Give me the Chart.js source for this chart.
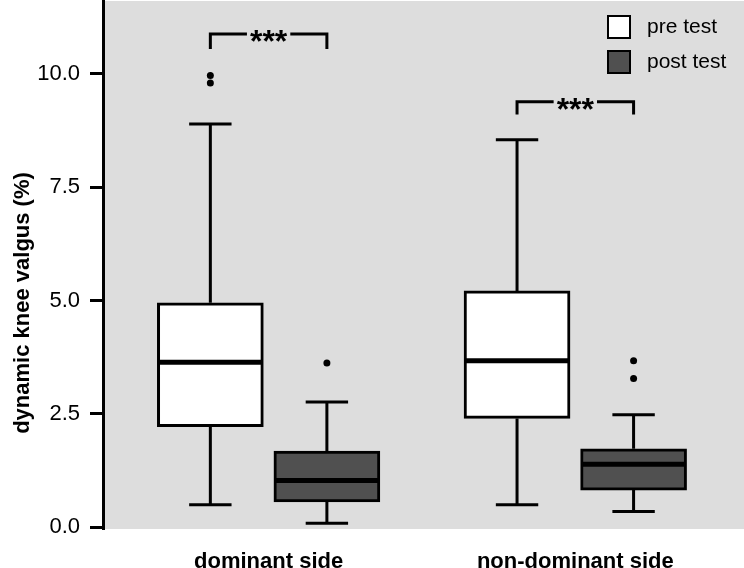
<!DOCTYPE html>
<html><head><meta charset="utf-8">
<script src="https://cdn.jsdelivr.net/npm/chart.js@4.4.1/dist/chart.umd.min.js"></script>
<style>html,body{margin:0;padding:0;background:#fff;}#wrap{width:744px;height:568px;}</style>
</head><body><div id="wrap"><canvas id="c" width="744" height="568"></canvas></div>
<script>
// ---- data ----
const categories = ['dominant side', 'non-dominant side'];
const seriesNames = ['pre test', 'post test'];
const yTicks = [0, 2.5, 5.0, 7.5, 10.0];
const yTitle = 'dynamic knee valgus (%)';

const preMin = [0.50, 0.50];
const preQ1 = [2.22, 2.40];
const preMedian = [3.64, 3.67];
const preQ3 = [4.95, 5.21];
const preMax = [8.89, 8.54];
const preOutliers = [[9.96, 9.79], []];

const postMin = [0.09, 0.35];
const postQ1 = [0.56, 0.82];
const postMedian = [1.03, 1.39];
const postQ3 = [1.68, 1.73];
const postMax = [2.76, 2.48];
const postOutliers = [[3.62], [3.67, 3.28]];

const sigLabels = ['***', '***'];
const sigTop = [10.87, 9.38];
const sigBottom = [10.54, 9.10];

// ---- layout / style ----
const FONT = '"Liberation Sans", Arial, Helvetica, sans-serif';
const GROUP_OFFSET = 0.19;
const PRE_FILL = '#ffffff';
const POST_FILL = '#505050';
const BG = '#dddddd';

const stats = [
  {min: preMin, q1: preQ1, med: preMedian, q3: preQ3, max: preMax},
  {min: postMin, q1: postQ1, med: postMedian, q3: postQ3, max: postMax}
];

const boxData = (q1, q3, sign) => categories.map((c, i) => ({x: i + sign * GROUP_OFFSET, y: [q1[i], q3[i]]}));
const outData = (outs, sign) => outs.flatMap((arr, i) => arr.map(v => ({x: i + sign * GROUP_OFFSET, y: v})));

const zeroPad = s => { s.paddingTop = 0; s.paddingBottom = 0; s.paddingLeft = 0; s.paddingRight = 0; };

const extras = {
  id: 'boxExtras',
  beforeDraw(chart) {
    const {ctx, chartArea: a} = chart;
    ctx.save();
    ctx.fillStyle = BG;
    ctx.fillRect(a.left, a.top, a.right - a.left, a.bottom - a.top);
    ctx.restore();
  },
  beforeDatasetsDraw(chart) {
    const {ctx} = chart;
    const ys = chart.scales.y;
    ctx.save();
    ctx.strokeStyle = '#000';
    ctx.lineWidth = 3;
    ctx.lineCap = 'butt';
    [0, 1].forEach(d => {
      const meta = chart.getDatasetMeta(d);
      const s = stats[d];
      meta.data.forEach((bar, i) => {
        const x = bar.x, cap = bar.width * 0.4;
        ctx.beginPath();
        ctx.moveTo(x, ys.getPixelForValue(s.q3[i]));
        ctx.lineTo(x, ys.getPixelForValue(s.max[i]));
        ctx.moveTo(x, ys.getPixelForValue(s.q1[i]));
        ctx.lineTo(x, ys.getPixelForValue(s.min[i]));
        ctx.moveTo(x - cap / 2, ys.getPixelForValue(s.max[i]));
        ctx.lineTo(x + cap / 2, ys.getPixelForValue(s.max[i]));
        ctx.moveTo(x - cap / 2, ys.getPixelForValue(s.min[i]));
        ctx.lineTo(x + cap / 2, ys.getPixelForValue(s.min[i]));
        ctx.stroke();
      });
    });
    ctx.restore();
  },
  afterDatasetsDraw(chart) {
    const {ctx} = chart;
    const ys = chart.scales.y;
    ctx.save();
    ctx.strokeStyle = '#000';
    ctx.lineWidth = 5;
    [0, 1].forEach(d => {
      const meta = chart.getDatasetMeta(d);
      const s = stats[d];
      meta.data.forEach((bar, i) => {
        const y = ys.getPixelForValue(s.med[i]);
        ctx.beginPath();
        ctx.moveTo(bar.x - bar.width / 2 + 1.5, y);
        ctx.lineTo(bar.x + bar.width / 2 - 1.5, y);
        ctx.stroke();
      });
    });
    ctx.restore();
  },
  afterDraw(chart) {
    const {ctx} = chart;
    const ys = chart.scales.y;
    const pre = chart.getDatasetMeta(0).data, post = chart.getDatasetMeta(1).data;
    ctx.save();
    // significance brackets
    ctx.strokeStyle = '#000';
    ctx.fillStyle = '#000';
    ctx.lineWidth = 3;
    ctx.lineJoin = 'miter';
    ctx.font = 'bold 32px ' + FONT;
    ctx.textAlign = 'center';
    ctx.textBaseline = 'alphabetic';
    categories.forEach((c, i) => {
      const xL = pre[i].x, xR = post[i].x, mid = (xL + xR) / 2;
      const yT = ys.getPixelForValue(sigTop[i]), yB = ys.getPixelForValue(sigBottom[i]);
      const tw = ctx.measureText(sigLabels[i]).width;
      ctx.beginPath();
      ctx.moveTo(xL, yB); ctx.lineTo(xL, yT); ctx.lineTo(mid - tw / 2 - 3, yT);
      ctx.moveTo(mid + tw / 2 + 3, yT); ctx.lineTo(xR, yT); ctx.lineTo(xR, yB);
      ctx.stroke();
      ctx.fillText(sigLabels[i], mid, yT + 18);
    });
    // legend
    const fills = [PRE_FILL, POST_FILL];
    ctx.font = '21px ' + FONT;
    ctx.textAlign = 'left';
    seriesNames.forEach((n, k) => {
      const bx = 607, by = 15 + k * 35;
      ctx.fillStyle = fills[k];
      ctx.fillRect(bx, by, 24, 24);
      ctx.lineWidth = 2;
      ctx.strokeStyle = '#000';
      ctx.strokeRect(bx + 1, by + 1, 22, 22);
      ctx.fillStyle = '#000';
      ctx.fillText(n, 647, by + 18);
    });
    // y title
    ctx.translate(28.5, 303);
    ctx.rotate(-Math.PI / 2);
    ctx.font = 'bold 22px ' + FONT;
    ctx.textAlign = 'center';
    ctx.fillText(yTitle, 0, 0);
    ctx.restore();
  }
};

new Chart(document.getElementById('c'), {
  type: 'bar',
  data: {
    datasets: [
      {type: 'bar', label: seriesNames[0], data: boxData(preQ1, preQ3, -1), backgroundColor: PRE_FILL, borderColor: '#000', borderWidth: 3, borderSkipped: false, grouped: false, barThickness: 106, order: 2},
      {type: 'bar', label: seriesNames[1], data: boxData(postQ1, postQ3, 1), backgroundColor: POST_FILL, borderColor: '#000', borderWidth: 3, borderSkipped: false, grouped: false, barThickness: 106, order: 2},
      {type: 'scatter', label: 'pre outliers', data: outData(preOutliers, -1), pointRadius: 3.5, backgroundColor: '#000', borderWidth: 0, order: 0},
      {type: 'scatter', label: 'post outliers', data: outData(postOutliers, 1), pointRadius: 3.5, backgroundColor: '#000', borderWidth: 0, order: 0}
    ]
  },
  options: {
    responsive: false,
    animation: false,
    layout: {autoPadding: false, padding: {top: 1, left: 0, right: 0, bottom: 0}},
    plugins: {legend: {display: false}, tooltip: {enabled: false}},
    scales: {
      x: {
        type: 'linear', min: -0.54, max: 1.55, offset: false,
        grid: {display: false}, border: {display: false},
        afterBuildTicks: s => { s.ticks = categories.map((c, i) => ({value: i})); },
        afterFit: s => { s.height = 39; zeroPad(s); },
        ticks: {callback: v => categories[v], font: {family: FONT, size: 22, weight: 'bold'}, color: '#000', padding: 12, maxRotation: 0, autoSkip: false}
      },
      y: {
        min: -0.037, max: 11.6,
        afterBuildTicks: s => { s.ticks = yTicks.map(v => ({value: v})); },
        afterFit: s => { s.width = 103; zeroPad(s); },
        grid: {drawOnChartArea: false, drawTicks: true, tickLength: 13, tickWidth: 3, tickColor: '#000'},
        border: {display: true, width: 3, color: '#000'},
        ticks: {callback: v => v.toFixed(1), font: {family: FONT, size: 22}, color: '#000', padding: 10}
      }
    }
  },
  plugins: [extras]
});
</script>
</body></html>
